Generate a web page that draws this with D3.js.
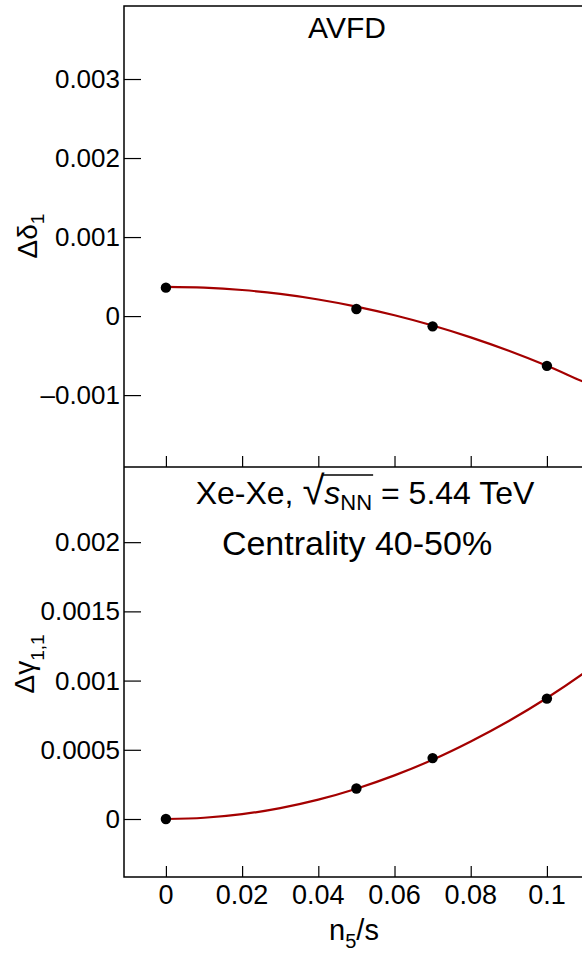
<!DOCTYPE html>
<html>
<head>
<meta charset="utf-8">
<script src="https://cdn.jsdelivr.net/npm/d3@7"></script>
<style>
  body { margin: 0; background: #fff; }
  svg { display: block; font-family: 'Liberation Sans', Arial, sans-serif; }
</style>
</head>
<body>
<div id="chart"></div>
<script>
// x positions of the AVFD points
const n5s = [0, 0.05, 0.07, 0.1];
// top panel: delta_1
const deltaPts = [0.00036, 0.00009, -0.00013, -0.00063];
// bottom panel: gamma_11
const gammaPts = [0.0, 0.00022, 0.00044, 0.00087];
// fit curves
const fitX = [0, 0.01, 0.02, 0.03, 0.04, 0.05, 0.06, 0.07, 0.08, 0.09, 0.1, 0.11, 0.113];
const deltaFit = [0.00037, 0.00036, 0.00033, 0.00028, 0.00021, 0.00012, 0.00001, -0.00012, -0.00027, -0.00044, -0.00063, -0.00084, -0.0009];
const gammaFit = [0.0, 0.000009, 0.000035, 0.000079, 0.00014, 0.000219, 0.000315, 0.000428, 0.00056, 0.000708, 0.000874, 0.00106, 0.00112];

const xTicks = [0, 0.02, 0.04, 0.06, 0.08, 0.1];
const deltaTicks = [-0.001, 0, 0.001, 0.002, 0.003];
const gammaTicks = [0, 0.0005, 0.001, 0.0015, 0.002];

const W = 582, H = 954;
const padL = 124, padT = 6, mid = 467, padB = 877;
const lineColor = '#a40000';

const svg = d3.select('#chart')
  .append('svg')
  .attr('width', W)
  .attr('height', H);

const x = d3.scaleLinear()
  .domain([-0.011, 0.112])
  .range([padL, padL + 0.123 * 3810]);

const yTop = d3.scaleLinear()
  .domain([-0.00191, 0.003924])
  .range([mid, padT]);

const yBot = d3.scaleLinear()
  .domain([-0.000419, 0.002543])
  .range([padB, mid]);

const fmt = d => d === 0 ? '0' : (d < 0 ? '\u2013' + String(-d) : String(d));

svg.append('defs').append('clipPath').attr('id', 'clip')
  .append('rect').attr('x', padL).attr('y', padT).attr('width', W - padL).attr('height', padB - padT);

// panels
function panel(y, ticks, yPts, yFit, y0, y1) {
  const g = svg.append('g');
  // left axis, ticks inside
  const ax = g.append('g')
    .attr('transform', 'translate(' + padL + ',0)')
    .call(d3.axisRight(y).tickValues(ticks).tickSize(17).tickFormat(''));
  ax.select('.domain').remove();
  ax.selectAll('line').attr('stroke', '#000').attr('stroke-width', 1.2);
  g.selectAll('.ylab')
    .data(ticks)
    .enter()
    .append('text')
    .attr('x', padL - 4)
    .attr('y', d => y(d) + 9)
    .attr('text-anchor', 'end')
    .style('font-size', '26px')
    .text(fmt);

  // x ticks at the bottom of the panel, pointing up
  const bx = g.append('g')
    .attr('transform', 'translate(0,' + y1 + ')')
    .call(d3.axisTop(x).tickValues(xTicks).tickSize(11).tickFormat(''));
  bx.select('.domain').remove();
  bx.selectAll('line').attr('stroke', '#000').attr('stroke-width', 1.2);

  const line = d3.line()
    .x((d, i) => x(fitX[i]))
    .y(d => y(d))
    .curve(d3.curveMonotoneX);
  g.append('path')
    .datum(yFit)
    .attr('clip-path', 'url(#clip)')
    .attr('d', line)
    .attr('fill', 'none')
    .attr('stroke', lineColor)
    .attr('stroke-width', 2.2);

  g.selectAll('circle')
    .data(yPts)
    .enter()
    .append('circle')
    .attr('cx', (d, i) => x(n5s[i]))
    .attr('cy', d => y(d))
    .attr('r', 5.2)
    .attr('fill', '#000');
}

panel(yTop, deltaTicks, deltaPts, deltaFit, padT, mid);
panel(yBot, gammaTicks, gammaPts, gammaFit, mid, padB);

// frame
svg.append('path')
  .attr('d', 'M' + W + ',' + padT + 'H' + padL + 'V' + padB + 'H' + W + 'M' + padL + ',' + mid + 'H' + W)
  .attr('fill', 'none')
  .attr('stroke', '#000')
  .attr('stroke-width', 1.5);

// x tick labels
svg.selectAll('.xlab')
  .data(xTicks)
  .enter()
  .append('text')
  .attr('x', d => x(d))
  .attr('y', 904)
  .attr('text-anchor', 'middle')
  .style('font-size', '27px')
  .text(d => String(d));

// x title
const xt = svg.append('text')
  .attr('x', 354)
  .attr('y', 940)
  .attr('text-anchor', 'middle')
  .style('font-size', '29px');
xt.append('tspan').text('n');
xt.append('tspan').attr('dy', 8).style('font-size', '20px').text('5');
xt.append('tspan').attr('dy', -8).text('/s');

// y titles
const yt1 = svg.append('text')
  .attr('transform', 'translate(37,236) rotate(-90)')
  .attr('text-anchor', 'middle')
  .style('font-size', '28px');
yt1.append('tspan').text('\u0394\u03b4');
yt1.append('tspan').attr('dy', 7).style('font-size', '19px').text('1');

const yt2 = svg.append('text')
  .attr('transform', 'translate(34,664) rotate(-90)')
  .attr('text-anchor', 'middle')
  .style('font-size', '28px');
yt2.append('tspan').text('\u0394\u03b3');
yt2.append('tspan').attr('dy', 10).style('font-size', '19px').text('1,1');

// labels
svg.append('text')
  .attr('x', 347)
  .attr('y', 38)
  .attr('text-anchor', 'middle')
  .style('font-size', '30px')
  .text('AVFD');

const t1 = svg.append('text')
  .attr('x', 365)
  .attr('y', 504)
  .attr('text-anchor', 'middle')
  .style('font-size', '32px');
t1.append('tspan').text('Xe-Xe, ');
t1.append('tspan').style('font-size', '40px').text('\u221a');
t1.append('tspan').style('font-style', 'italic').text('s');
t1.append('tspan').attr('dy', 6).style('font-size', '22px').text('NN');
t1.append('tspan').attr('dy', -6).text(' = 5.44 TeV');
// overline for the root
const tn = t1.node();
const sStart = tn.getStartPositionOfChar(8);
const nnEnd = tn.getEndPositionOfChar(10);
svg.append('line')
  .attr('x1', sStart.x - 2)
  .attr('x2', nnEnd.x + 1)
  .attr('y1', 504 - 29)
  .attr('y2', 504 - 29)
  .attr('stroke', '#000')
  .attr('stroke-width', 1.3);

svg.append('text')
  .attr('x', 357)
  .attr('y', 555)
  .attr('text-anchor', 'middle')
  .style('font-size', '34px')
  .text('Centrality 40-50%');
</script>
</body>
</html>
